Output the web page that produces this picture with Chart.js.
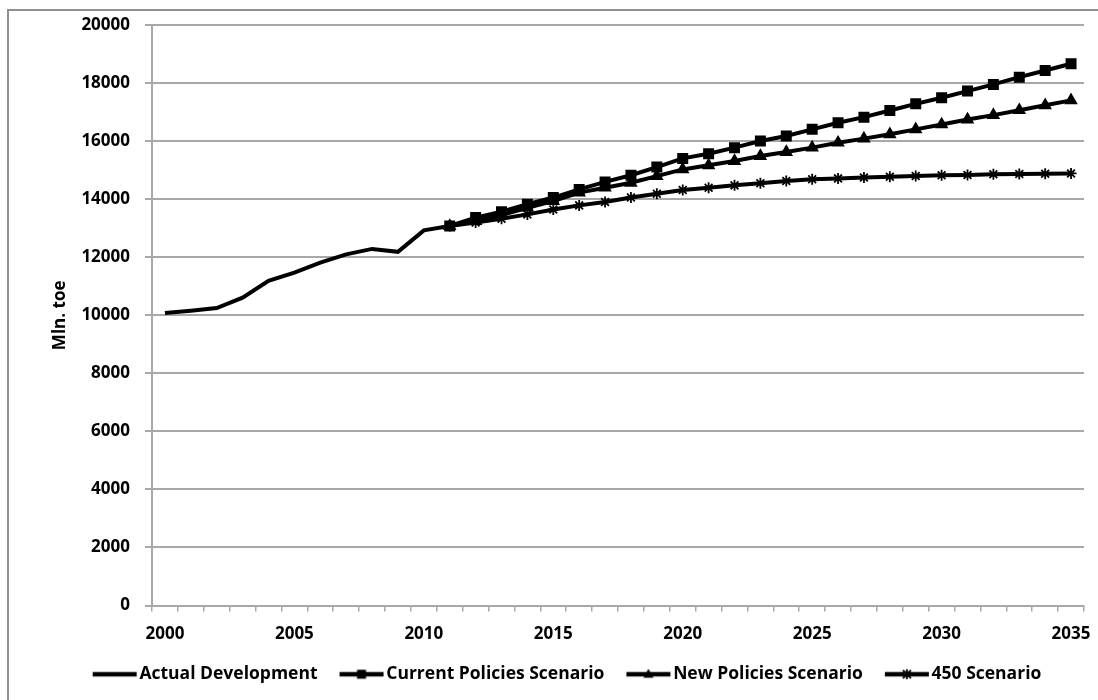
<!DOCTYPE html>
<html>
<head>
<meta charset="utf-8">
<script src="https://cdn.jsdelivr.net/npm/chart.js@4.4.1/dist/chart.umd.min.js"></script>
<style>
  html, body { margin: 0; padding: 0; background: #fff; overflow: hidden; }
  #wrap { width: 1098px; height: 700px; position: relative; }
</style>
</head>
<body>
<div id="wrap"><canvas id="canvas" width="1098" height="700"></canvas></div>
<script>
const years = [
  "2000", "2001", "2002", "2003", "2004", "2005", "2006", "2007", "2008", "2009",
  "2010", "2011", "2012", "2013", "2014", "2015", "2016", "2017", "2018", "2019",
  "2020", "2021", "2022", "2023", "2024", "2025", "2026", "2027", "2028", "2029",
  "2030", "2031", "2032", "2033", "2034", "2035",
];

// 2000 - 2011
const actualDevelopment = [10080, 10160, 10250, 10610, 11190, 11470, 11820, 12100, 12290, 12190, 12930, 13080];

// 2011 - 2035
const currentPolicies = [
  13080, 13370, 13570, 13830, 14060, 14340, 14600, 14830, 15110, 15410, 15570, 15780, 16010,
  16180, 16410, 16640, 16830, 17060, 17290, 17500, 17730, 17960, 18210, 18440, 18670,
];
const newPolicies = [
  13080, 13250, 13460, 13710, 13940, 14230, 14400, 14570, 14800, 15030, 15170, 15320, 15490,
  15630, 15780, 15950, 16090, 16240, 16410, 16580, 16750, 16900, 17070, 17240, 17410,
];
const scenario450 = [
  13080, 13200, 13330, 13480, 13650, 13790, 13910, 14060, 14190, 14320, 14400, 14480, 14550,
  14630, 14690, 14720, 14750, 14780, 14800, 14830, 14840, 14860, 14870, 14880, 14890,
];

const seriesNames = ["Actual Development", "Current Policies Scenario", "New Policies Scenario", "450 Scenario"];
const yTitle = "Mln. toe";

const FONT = "'Open Sans', 'DejaVu Sans', sans-serif";
const GRID = "#a8a8a8";

// pad the series out to the full year range
function fullRange(values, startYear) {
  const out = years.map(() => null);
  const offset = years.indexOf(startYear);
  values.forEach((v, i) => { out[offset + i] = v; });
  return out;
}

// legend sample: thick line with the marker in the middle.
// the canvas is centred on the legend box, the line sits just left of the text
function legendIcon(marker) {
  const c = document.createElement("canvas");
  c.width = 60;
  c.height = 16;
  const g = c.getContext("2d");
  g.strokeStyle = "#000";
  g.fillStyle = "#000";
  g.lineWidth = 4.5;
  g.beginPath();
  g.moveTo(14, 8);
  g.lineTo(58, 8);
  g.stroke();
  const cx = 36, cy = 8;
  g.lineWidth = 1.8;
  if (marker === "rect") {
    g.fillRect(cx - 4.5, cy - 4.5, 9, 9);
  } else if (marker === "triangle") {
    g.beginPath();
    g.moveTo(cx, cy - 5.5);
    g.lineTo(cx + 5, cy + 3.5);
    g.lineTo(cx - 5, cy + 3.5);
    g.closePath();
    g.fill();
  } else if (marker === "star") {
    g.beginPath();
    g.moveTo(cx, cy - 5); g.lineTo(cx, cy + 5);
    g.moveTo(cx - 4, cy - 4); g.lineTo(cx + 4, cy + 4);
    g.moveTo(cx - 4, cy + 4); g.lineTo(cx + 4, cy - 4);
    g.stroke();
  }
  return c;
}

function lineSet(label, data, pointStyle, radius) {
  return {
    label: label,
    data: data,
    borderColor: "#000",
    backgroundColor: "#000",
    borderWidth: 4,
    pointStyle: pointStyle || false,
    pointRadius: radius || 0,
    pointBorderWidth: 1.8,
    pointBorderColor: "#000",
    pointBackgroundColor: "#000",
    tension: 0,
    icon: legendIcon(pointStyle),
  };
}

const outerFrame = {
  id: "outerFrame",
  beforeDraw(chart) {
    const ctx = chart.ctx;
    ctx.save();
    ctx.fillStyle = "#fff";
    ctx.fillRect(0, 0, chart.width, chart.height);
    ctx.strokeStyle = "#8f8f8f";
    ctx.lineWidth = 2;
    ctx.strokeRect(8, 10, 1200, 800);
    ctx.restore();
  },
};

const config = {
  type: "line",
  data: {
    labels: years,
    datasets: [
      lineSet(seriesNames[0], fullRange(actualDevelopment, "2000"), null, 0),
      lineSet(seriesNames[1], fullRange(currentPolicies, "2011"), "rect", 6.5),
      lineSet(seriesNames[2], fullRange(newPolicies, "2011"), "triangle", 6),
      lineSet(seriesNames[3], fullRange(scenario450, "2011"), "star", 5.5),
    ],
  },
  options: {
    responsive: false,
    animation: false,
    layout: {
      padding: { top: 16, right: 14, left: 44, bottom: 7 },
    },
    plugins: {
      tooltip: { enabled: false },
      legend: {
        position: "bottom",
        labels: {
          usePointStyle: true,
          pointStyleWidth: 44,
          boxHeight: 16,
          padding: 16,
          color: "#000",
          font: { family: FONT, size: 17.5, weight: "bold" },
          generateLabels(chart) {
            return chart.data.datasets.map((ds, i) => ({
              text: ds.label,
              datasetIndex: i,
              pointStyle: ds.icon,
              fillStyle: "#000",
              strokeStyle: "#000",
              lineWidth: 0,
              fontColor: "#000",
              hidden: false,
            }));
          },
        },
      },
    },
    scales: {
      x: {
        type: "category",
        offset: true,
        afterFit(scale) {
          scale.height = 44;
          scale.paddingLeft = 0;
          scale.paddingRight = 0;
        },
        grid: {
          offset: true,
          drawOnChartArea: false,
          drawTicks: true,
          tickLength: 6,
          color: GRID,
          lineWidth: 1.5,
        },
        border: { color: GRID, width: 2 },
        ticks: {
          autoSkip: false,
          maxRotation: 0,
          padding: 12,
          color: "#000",
          font: { family: FONT, size: 17, weight: "bold" },
          callback(value, index) {
            const y = years[index];
            return Number(y) % 5 === 0 ? y : "";
          },
        },
      },
      y: {
        min: 0,
        max: 20000,
        afterFit(scale) { scale.width = 108; },
        grid: {
          color: GRID,
          lineWidth: 2,
          tickLength: 7,
        },
        border: { color: GRID, width: 2 },
        ticks: {
          stepSize: 2000,
          padding: 15,
          color: "#000",
          font: { family: FONT, size: 17, weight: "bold" },
          callback(value) { return String(value); },
        },
        title: {
          display: true,
          text: yTitle,
          color: "#000",
          font: { family: FONT, size: 17, weight: "bold" },
          padding: { top: 6, bottom: 0 },
        },
      },
    },
  },
  plugins: [outerFrame],
};

window.onload = function () {
  const ctx = document.getElementById("canvas").getContext("2d");
  new Chart(ctx, config);
};
</script>
</body>
</html>
